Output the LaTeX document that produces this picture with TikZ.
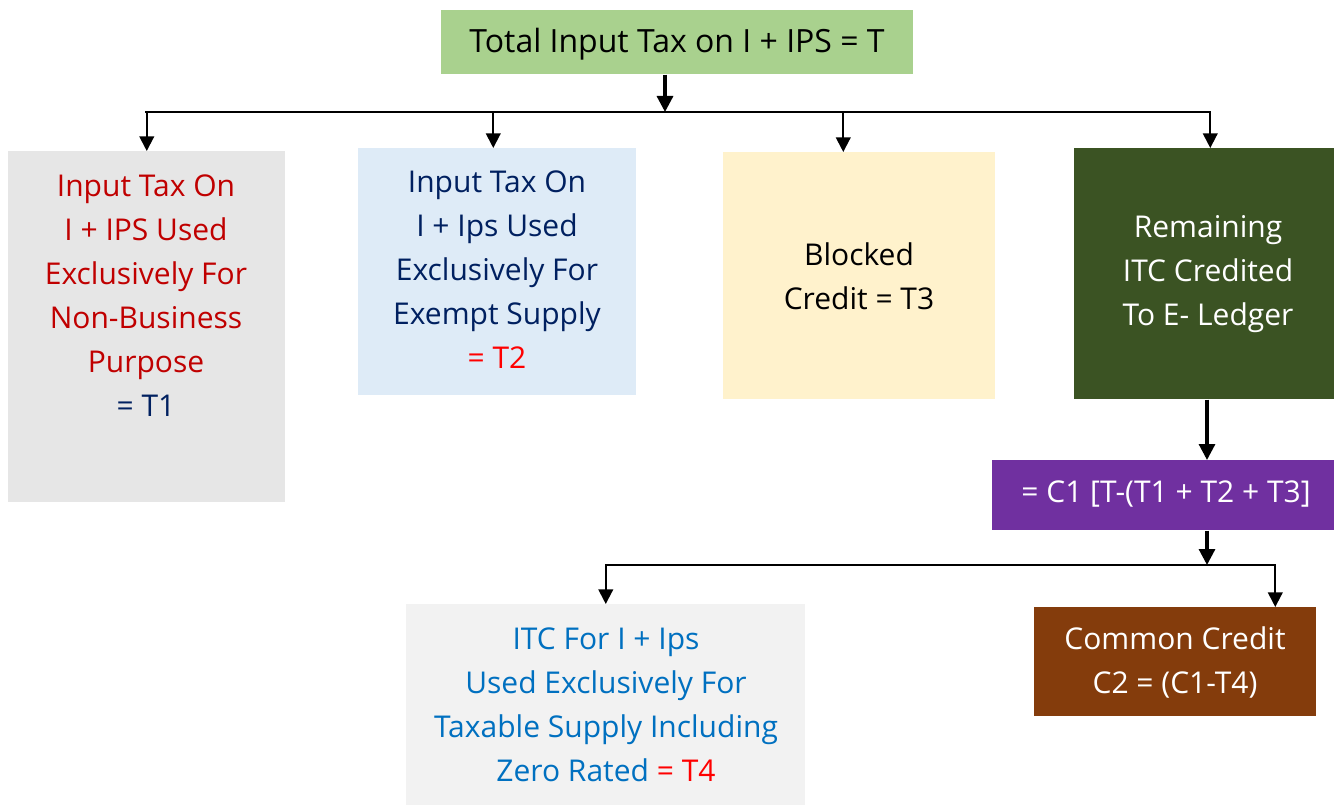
\documentclass[tikz,border=0pt]{standalone}
\usepackage{fontspec}
\setmainfont{Open Sans}
\usetikzlibrary{arrows.meta,positioning}
\definecolor{topgreen}{HTML}{A9D18E}
\definecolor{boxgray}{HTML}{E6E6E6}
\definecolor{boxblue}{HTML}{DEEBF7}
\definecolor{boxcream}{HTML}{FFF2CC}
\definecolor{boxdark}{HTML}{3B5323}
\definecolor{boxpurple}{HTML}{7030A0}
\definecolor{boxlight}{HTML}{F2F2F2}
\definecolor{boxbrown}{HTML}{843C0C}
\definecolor{txtred}{HTML}{C00000}
\definecolor{txtbright}{HTML}{FF0000}
\definecolor{txtnavy}{HTML}{002060}
\definecolor{txtblue}{HTML}{0070C0}
\tikzset{
  panel/.style={rectangle, inner sep=0pt, anchor=north west, draw=none},
  caption/.style={align=center, font=\fontsize{22.5}{33}\selectfont, inner sep=0pt},
  link/.style={line width=1.5pt, -{Triangle[width=11pt,length=11pt]}},
  trunk/.style={line width=2.4pt, -{Triangle[width=12pt,length=12pt]}},
  rail/.style={line width=1.5pt}
}
\begin{document}
\begin{tikzpicture}[x=0.75pt,y=-0.75pt]
\useasboundingbox (0,0) rectangle (1334,805);

% boxes
\node[panel, fill=topgreen, minimum width=354pt, minimum height=48pt] (top) at (441,10) {};
\node[panel, fill=boxgray, minimum width=207.75pt, minimum height=263pt] (b1) at (8,151) {};
\node[panel, fill=boxblue, minimum width=208.5pt, minimum height=185.25pt] (b2) at (358,148) {};
\node[panel, fill=boxcream, minimum width=204pt, minimum height=185.25pt] (b3) at (723,152) {};
\node[panel, fill=boxdark, minimum width=195pt, minimum height=188.25pt] (b4) at (1074,148) {};
\node[panel, fill=boxpurple, minimum width=256.5pt, minimum height=52.5pt] (c1) at (992,460) {};
\node[panel, fill=boxlight, minimum width=299.25pt, minimum height=150.75pt] (b5) at (406,604) {};
\node[panel, fill=boxbrown, minimum width=211.5pt, minimum height=81.75pt] (c2) at (1034,607) {};

% texts
\node[caption, font=\fontsize{24}{33}\selectfont] (ttop) at (677,44) {Total Input Tax on I + IPS = T};
\node[caption, text=txtred] (t1) at (146,296) {Input Tax On\\I + IPS Used\\Exclusively For\\Non-Business\\Purpose\\\textcolor{txtnavy}{= T1}};
\node[caption, text=txtnavy] (t2) at (497,270) {Input Tax On\\I + Ips Used\\Exclusively For\\Exempt Supply\\\textcolor{txtbright}{= T2}};
\node[caption] (t3) at (859,276) {Blocked\\Credit = T3};
\node[caption, text=white] (t4) at (1208,274) {Remaining\\ITC Credited\\To E- Ledger};
\node[caption, text=white] (tc1) at (1166,494) {= C1 [T-(T1 + T2 + T3]};
\node[caption, text=txtblue] (t5) at (606,705) {ITC For I + Ips\\Used Exclusively For\\Taxable Supply Including\\Zero Rated \textcolor{txtbright}{= T4}};
\node[caption, text=white] (tc2) at (1175,662) {Common Credit\\C2 = (C1-T4)};

% connectors
\coordinate (j1) at (665,112);
\coordinate (j2) at (1207,565);
\draw[trunk] (top.south -| j1) -- (j1);
\draw[rail] ([xshift=-1pt]b1.north |- j1) -- ([xshift=1pt]b4.north |- j1);
\draw[link] (j1) -| (b1.north);
\draw[link] (j1) -| ([xshift=-3pt]b2.north);
\draw[link] (j1) -| ([xshift=-12pt]b3.north);
\draw[link] (j1) -| ([xshift=4.5pt]b4.north);
\draw[trunk] (b4.south -| j2) -- (c1.north -| j2);
\draw[trunk] (c1.south -| j2) -- (j2);
\draw[rail] (b5.north |- j2) -- ([xshift=75pt]c2.north |- j2);
\draw[link] (j2) -| (b5.north);
\draw[link] (j2) -| ([xshift=75pt]c2.north);
\end{tikzpicture}
\end{document}
